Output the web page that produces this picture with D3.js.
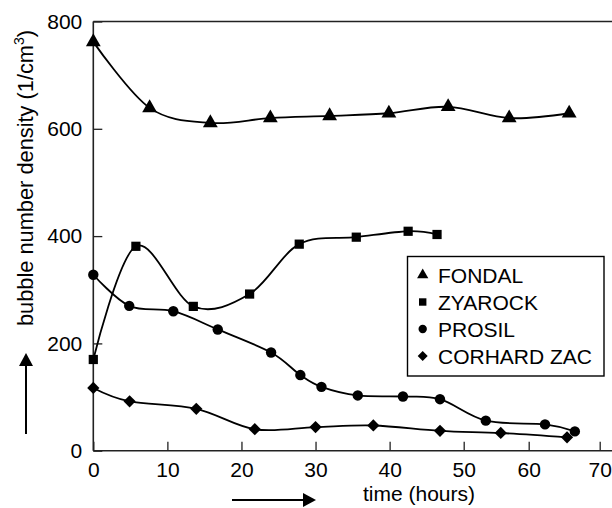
<!DOCTYPE html>
<html><head><meta charset="utf-8">
<script src="https://cdn.jsdelivr.net/npm/d3@7"></script>
<style>
html,body{margin:0;padding:0;background:#fff;}
svg{display:block;font-family:"Liberation Sans",Arial,Helvetica,sans-serif;}
</style></head>
<body><svg id="c" width="612" height="508"></svg>
<script>
// ---- data ----
const seriesNames = ["FONDAL", "ZYAROCK", "PROSIL", "CORHARD ZAC"];
const fondalT = [0, 7.6, 15.8, 23.9, 31.9, 39.9, 47.9, 57.0, 65.7];
const fondalV = [762, 639, 611, 620, 624, 629, 641, 620, 629];
const zyarockT = [0, 5.75, 13.5, 21.1, 27.8, 35.5, 42.5, 46.4];
const zyarockV = [170, 381, 269, 292, 385, 398, 409, 403];
const prosilT = [0, 4.85, 10.8, 16.8, 24.0, 27.95, 30.8, 35.7, 41.8, 46.8, 53.4, 62.3, 66.5];
const prosilV = [328, 270, 260, 226, 183, 141, 119, 103, 101, 96, 56, 49, 36];
const corhardT = [0, 4.9, 13.9, 21.8, 30.0, 37.8, 46.8, 55.7, 65.4];
const corhardV = [117, 92, 78, 40, 44, 47, 37, 33, 25];
const xTicks = [0, 10, 20, 30, 40, 50, 60, 70];
const yTicks = [0, 200, 400, 600, 800];

// ---- layout ----
const svg = d3.select("#c");
const mLeft = 93.3, mRight = 612, mTop = 21.5, mBottom = 450.7;
// axis ticks in the original figure are not evenly spaced beyond 50
const x = d3.scaleLinear().domain([0, 50, 60, 70]).range([mLeft, 463.7, 528.7, 599.7]);
const y = d3.scaleLinear().domain([0, 800]).range([mBottom, mTop]);
const ink = "#000";
const axisCol = "#222";
const fs = 21;

// axes frame
svg.append("line").attr("x1", mLeft).attr("x2", mRight).attr("y1", mTop).attr("y2", mTop)
  .attr("stroke", axisCol).attr("stroke-width", 1.6);
const gx = svg.append("g").attr("transform", `translate(0,${mBottom})`)
  .call(d3.axisBottom(x).tickValues(xTicks).tickSizeInner(-9).tickSizeOuter(0).tickPadding(11));
const gy = svg.append("g").attr("transform", `translate(${mLeft},0)`)
  .call(d3.axisLeft(y).tickValues(yTicks).tickSizeInner(-9).tickSizeOuter(0).tickPadding(11));
[gx, gy].forEach(g => {
  g.select(".domain").attr("stroke", axisCol).attr("stroke-width", 1.6);
  g.selectAll(".tick line").attr("stroke", axisCol).attr("stroke-width", 1.3);
  g.selectAll(".tick text").attr("font-size", fs).attr("fill", ink)
    .attr("font-family", '"Liberation Sans",Arial,sans-serif');
});
gx.select(".domain").attr("d", `M${mLeft},0H${mRight}`);
gy.select(".domain").attr("d", `M0,${mBottom}V${mTop}`);

// axis titles
svg.append("text").attr("x", 419).attr("y", 501).attr("text-anchor", "middle")
  .attr("font-size", fs).attr("fill", ink).text("time (hours)");
const yl = svg.append("text").attr("transform", "translate(33,178) rotate(-90)")
  .attr("text-anchor", "middle").attr("font-size", 21.8).attr("fill", ink);
yl.append("tspan").text("bubble number density (1/cm");
yl.append("tspan").attr("font-size", 14).attr("dy", -9).text("3");
yl.append("tspan").attr("dy", 9).text(")");

// arrows
function arrow(x1, y1, x2, y2) {
  const ang = Math.atan2(y2 - y1, x2 - x1), L = 13, W = 7;
  const bx = x2 - L * Math.cos(ang), by = y2 - L * Math.sin(ang);
  svg.append("line").attr("x1", x1).attr("y1", y1).attr("x2", bx).attr("y2", by)
    .attr("stroke", ink).attr("stroke-width", 2);
  const px = -Math.sin(ang) * W, py = Math.cos(ang) * W;
  svg.append("path").attr("d", `M${x2},${y2}L${bx + px},${by + py}L${bx - px},${by - py}Z`).attr("fill", ink);
}
arrow(232, 500, 316, 500);
arrow(26, 434, 26, 353);

// series
const series = [
  { t: fondalT, v: fondalV, sym: d3.symbolTriangle, rot: 0, size: 95, lsize: 55 },
  { t: zyarockT, v: zyarockV, sym: d3.symbolSquare, rot: 0, size: 85, lsize: 55 },
  { t: prosilT, v: prosilV, sym: d3.symbolCircle, rot: 0, size: 85, lsize: 55 },
  { t: corhardT, v: corhardV, sym: d3.symbolSquare, rot: 45, size: 75, lsize: 50 }
];
const line = d3.line().x(d => x(d[0])).y(d => y(d[1])).curve(d3.curveCardinal.tension(0));
series.forEach(s => {
  const pts = s.t.map((t, i) => [t, s.v[i]]);
  svg.append("path").attr("d", line(pts)).attr("fill", "none").attr("stroke", ink).attr("stroke-width", 1.8);
  svg.append("g").selectAll("path").data(pts).join("path")
    .attr("transform", d => `translate(${x(d[0])},${y(d[1])}) rotate(${s.rot})`)
    .attr("d", d3.symbol().type(s.sym).size(s.size)).attr("fill", ink);
});

// legend
const lg = svg.append("g");
lg.append("rect").attr("x", 407.5).attr("y", 256.5).attr("width", 196.5).attr("height", 119.5)
  .attr("fill", "#fff").attr("stroke", ink).attr("stroke-width", 1.4);
seriesNames.forEach((n, i) => {
  const cy = 275 + i * 27;
  lg.append("path").attr("transform", `translate(422.7,${cy}) rotate(${series[i].rot})`)
    .attr("d", d3.symbol().type(series[i].sym).size(series[i].lsize)).attr("fill", ink);
  lg.append("text").attr("x", 438).attr("y", cy + 7.5).attr("font-size", fs).attr("fill", ink).text(n);
});
</script></body></html>
